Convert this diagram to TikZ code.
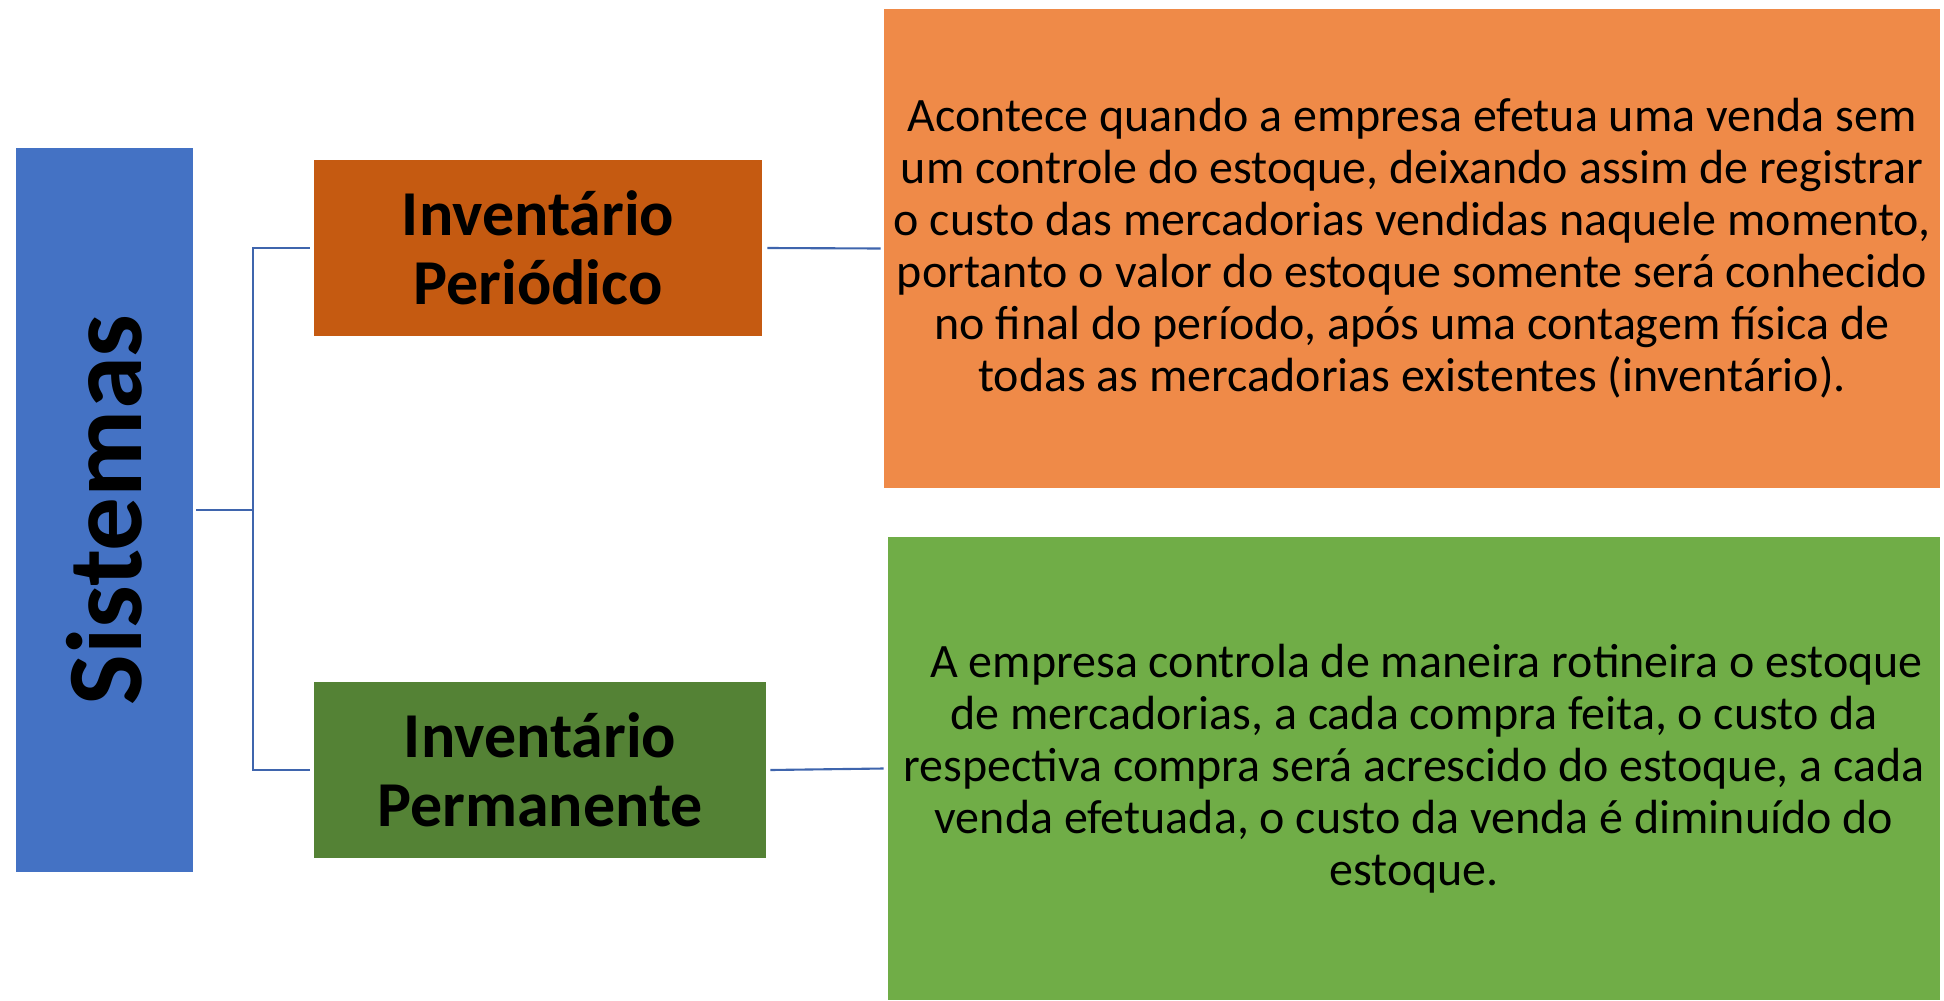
\documentclass[tikz,border=0pt]{standalone}
\usepackage{fontspec}
\setmainfont{Carlito}
\usetikzlibrary{positioning}
\definecolor{azulsis}{HTML}{4472C4}
\definecolor{laranjaesc}{HTML}{C55A11}
\definecolor{laranja}{HTML}{EF8A48}
\definecolor{verdeesc}{HTML}{548235}
\definecolor{verde}{HTML}{70AD47}
\definecolor{linha}{HTML}{3F65AD}
\begin{document}
\begin{tikzpicture}[
  caixa/.style={inner sep=0pt,align=center,text=black},
  titulo/.style={caixa,font=\fontsize{36.4}{39.5}\selectfont\bfseries},
  texto/.style={caixa,font=\fontsize{27.3}{29.6}\selectfont},
  conn/.style={draw=linha,line width=1.2pt}]
  \useasboundingbox (0,0) rectangle (38.88,-20);
  % caixa da esquerda
  \node[caixa,fill=azulsis,minimum width=3.54cm,minimum height=14.48cm] (sis) at (2.09,-10.2)
    {\rotatebox{90}{\fontsize{61}{70}\selectfont\bfseries Sistemas}};
  % os dois inventarios
  \node[titulo,fill=laranjaesc,minimum width=8.96cm,minimum height=3.52cm] (per) at (10.76,-4.96)
    {Inventário\\Periódico};
  \node[titulo,fill=verdeesc,minimum width=9.04cm,minimum height=3.52cm] (perm) at (10.80,-15.40)
    {Inventário\\Permanente};
  % descricoes
  \node[texto,fill=laranja,minimum width=21.12cm,minimum height=9.58cm] (desc1) at (28.24,-4.97)
    {Acontece quando a empresa efetua uma venda sem\\
     um controle do estoque, deixando assim de registrar\\
     o custo das mercadorias vendidas naquele momento,\\
     portanto o valor do estoque somente será conhecido\\
     no final do período, após uma contagem física de\\
     todas as mercadorias existentes (inventário).};
  \node[texto,fill=verde,minimum width=21.04cm,minimum height=9.26cm] (desc2) at (28.28,-15.37)
    {\hspace*{0.5cm}A empresa controla de maneira rotineira o estoque\\
     de mercadorias, a cada compra feita, o custo da\\
     respectiva compra será acrescido do estoque, a cada\\
     venda efetuada, o custo da venda é diminuído do\\
     estoque.};
  % ligacoes
  \coordinate (tronco) at (5.06,-10.2);
  \draw[conn] ([xshift=0.06cm]sis.east) -- (tronco);
  \draw[conn] ([xshift=-0.08cm]per.west) -| (tronco) |- ([xshift=-0.08cm]perm.west);
  \draw[conn] ([xshift=0.1cm]per.east) -- ([xshift=-0.06cm]desc1.west);
  \draw[conn] ([xshift=0.08cm]perm.east) -- ([xshift=-0.08cm]desc2.west);
\end{tikzpicture}
\end{document}
